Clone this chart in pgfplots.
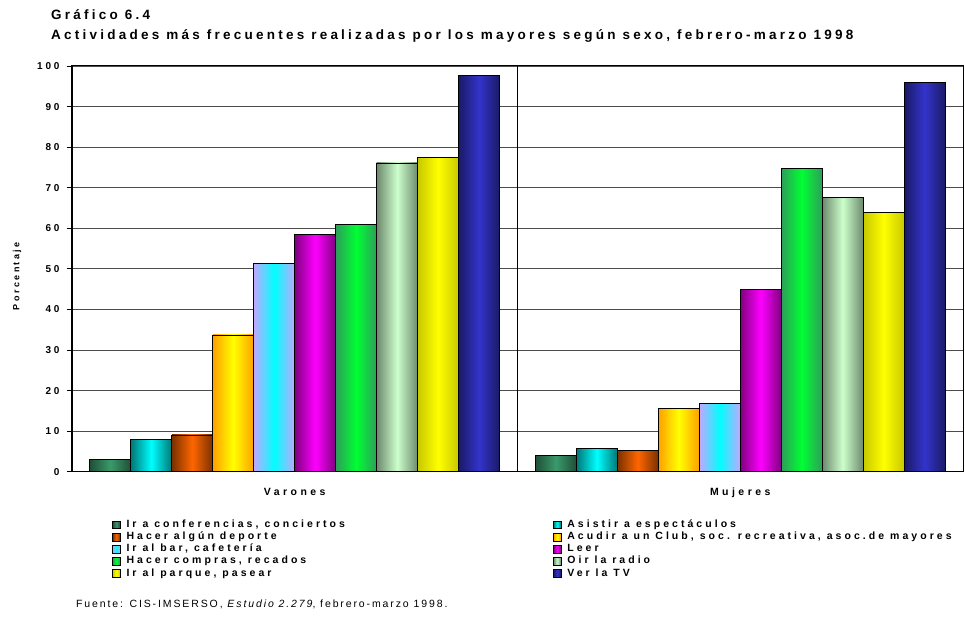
\documentclass[border=0pt]{standalone}
\usepackage{pgfplots}
\pgfplotsset{compat=1.18}
\usepackage{fontspec}
\setmainfont{Liberation Sans}
\newfontfamily\titlefont{Liberation Sans}[LetterSpace=24]
\newfontfamily\tickfont{Liberation Sans}[LetterSpace=28]
\newfontfamily\catfont{Liberation Sans}[LetterSpace=33]
\newfontfamily\legfont{Liberation Sans}[LetterSpace=29]
\newfontfamily\ylabfont{Liberation Sans}[LetterSpace=27]
\newfontfamily\srcfont{Liberation Sans}[LetterSpace=18]

\definecolor{confE}{HTML}{1F4F38}\definecolor{confC}{HTML}{3A9A6A}
\definecolor{asiE}{HTML}{007777}\definecolor{asiC}{HTML}{00FFFF}
\definecolor{depE}{HTML}{7A3000}\definecolor{depC}{HTML}{FF6600}
\definecolor{clubE}{HTML}{FFA000}\definecolor{clubC}{HTML}{FFFF00}
\definecolor{barE}{HTML}{C0A8FF}\definecolor{barC}{HTML}{00FFFF}
\definecolor{leeE}{HTML}{800080}\definecolor{leeC}{HTML}{FF00FF}
\definecolor{comE}{HTML}{2E9E5A}\definecolor{comC}{HTML}{00FF33}
\definecolor{radE}{HTML}{6E8A6E}\definecolor{radC}{HTML}{CCFFCC}
\definecolor{parE}{HTML}{C8C800}\definecolor{parC}{HTML}{FFFF00}
\definecolor{tvE}{HTML}{1A1A66}\definecolor{tvC}{HTML}{3333CC}

\pgfplotsset{
  sConf/.style={left color=confE, right color=confE, middle color=confC, bar shift=-0.414},
  sAsi/.style={left color=asiE, right color=asiE, middle color=asiC, bar shift=-0.322},
  sDep/.style={left color=depE, right color=depE, middle color=depC, bar shift=-0.230},
  sClub/.style={left color=clubE, right color=clubE, middle color=clubC, bar shift=-0.138},
  sBar/.style={left color=barE, right color=barE, middle color=barC, bar shift=-0.046},
  sLee/.style={left color=leeE, right color=leeE, middle color=leeC, bar shift=0.046},
  sCom/.style={left color=comE, right color=comE, middle color=comC, bar shift=0.138},
  sRad/.style={left color=radE, right color=radE, middle color=radC, bar shift=0.230},
  sPar/.style={left color=parE, right color=parE, middle color=parC, bar shift=0.322},
  sTv/.style={left color=tvE, right color=tvE, middle color=tvC, bar shift=0.414},
}

\begin{document}
\begin{tikzpicture}
\path[use as bounding box] (-72pt,-146.3pt) rectangle (893pt,471.7pt);
\begin{axis}[
  scale only axis, width=891pt, height=405.7pt,
  ybar=0pt, bar width=0.092,
  xmin=-0.5, xmax=1.5, ymin=0, ymax=100,
  xtick={0,1}, xticklabels={Varones,Mujeres},
  major x tick style={draw=none},
  extra x ticks={-0.5,0.5,1.5}, extra x tick labels={},
  extra x tick style={grid=major, major grid style={black, line width=0.9pt}, major tick length=5pt, tick align=outside, tick style={black, line width=0.9pt}},
  xticklabel style={font=\catfont\bfseries\fontsize{10.5}{12}\selectfont, yshift=-8pt},
  ytick={0,10,...,100},
  ymajorgrids, grid style={black!70, line width=0.9pt},
  tick align=outside, tick pos=left, major tick length=5pt,
  y tick style={black, line width=0.9pt},
  yticklabel style={font=\tickfont\bfseries\fontsize{10}{11}\selectfont, /pgf/number format/assume math mode=true, xshift=-4pt},
  axis line style={black, line width=1pt},
  ylabel={Porcentaje},
  ylabel style={font=\ylabfont\bfseries\fontsize{9}{10}\selectfont, at={(axis description cs:-0.0617,0.482)}, anchor=center},
  legend columns=2, legend cell align=left,
  legend style={at={(axis description cs:0.0449,-0.116)}, anchor=north west, draw=none, fill=none, inner sep=0pt,
    font=\legfont\bfseries\fontsize{10.5}{12}\selectfont,
    nodes={inner ysep=1pt, inner xsep=6pt, text height=7.7pt, text depth=2.4pt},
    /tikz/every even column/.append style={column sep=202pt}},
  legend image code/.code={\draw[#1, draw=black, line width=0.8pt] (0pt,-3.8pt) rectangle (7.5pt,3.8pt);},
  every axis plot/.append style={draw=black, line width=0.9pt},
]
\addplot[sConf] coordinates {(0,3.06)};
\addlegendentry{Ir a conferencias, conciertos}
\addplot[sAsi] coordinates {(0,8.06)};
\addlegendentry{Asistir a espectáculos}
\addplot[sDep] coordinates {(0,9.05)};
\addlegendentry{Hacer algún deporte}
\addplot[sClub] coordinates {(0,33.7)};
\addlegendentry{Acudir a un Club, soc. recreativa, asoc.de mayores}
\addplot[sBar] coordinates {(0,51.3)};
\addlegendentry{Ir al bar, cafetería}
\addplot[sLee] coordinates {(0,58.5)};
\addlegendentry{Leer}
\addplot[sCom] coordinates {(0,60.9)};
\addlegendentry{Hacer compras, recados}
\addplot[sRad] coordinates {(0,76.1)};
\addlegendentry{Oir la radio}
\addplot[sPar] coordinates {(0,77.4)};
\addlegendentry{Ir al parque, pasear}
\addplot[sTv] coordinates {(0,97.6)};
\addlegendentry{Ver la TV}
% Mujeres
\addplot[sConf, forget plot] coordinates {(1,4.04)};
\addplot[sAsi, forget plot] coordinates {(1,5.76)};
\addplot[sDep, forget plot] coordinates {(1,5.27)};
\addplot[sClub, forget plot] coordinates {(1,15.6)};
\addplot[sBar, forget plot] coordinates {(1,16.8)};
\addplot[sLee, forget plot] coordinates {(1,45.0)};
\addplot[sCom, forget plot] coordinates {(1,74.8)};
\addplot[sRad, forget plot] coordinates {(1,67.6)};
\addplot[sPar, forget plot] coordinates {(1,64.0)};
\addplot[sTv, forget plot] coordinates {(1,96.0)};
\end{axis}
\node[anchor=base west, font=\titlefont\bfseries\fontsize{13.5}{15}\selectfont, inner sep=0pt] at (-21pt,451.7pt) {Gráfico 6.4};
\node[anchor=base west, font=\titlefont\bfseries\fontsize{13.5}{15}\selectfont, inner sep=0pt] at (-21pt,431.7pt) {Actividades más frecuentes realizadas por los mayores según sexo, febrero-marzo 1998};
\node[anchor=base west, font=\srcfont\fontsize{10.5}{12}\selectfont, inner sep=0pt] at (4pt,-136pt) {Fuente: CIS-IMSERSO, {\itshape Estudio 2.279}, febrero-marzo 1998.};
\end{tikzpicture}
\end{document}
